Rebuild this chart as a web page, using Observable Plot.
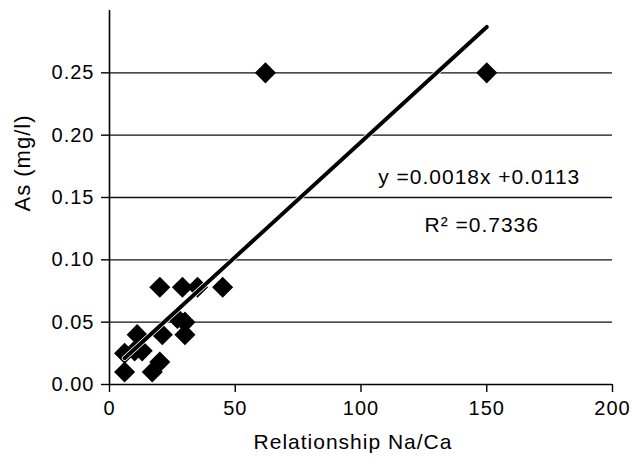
<!DOCTYPE html>
<html>
<head>
<meta charset="utf-8">
<script src="https://cdn.jsdelivr.net/npm/d3@7"></script>
<script src="https://cdn.jsdelivr.net/npm/@observablehq/plot@0.6"></script>
<style>
  html, body { margin: 0; padding: 0; background: #fff; }
</style>
</head>
<body>
<div id="chart"></div>
<script>
// Data
const ratioNaCa = [6, 17, 20, 6, 10, 13, 11, 21, 30, 30, 27, 20, 29, 35, 45, 62, 150];
const arsenic   = [0.010, 0.010, 0.018, 0.025, 0.027, 0.027, 0.040, 0.040, 0.040, 0.050, 0.053, 0.078, 0.078, 0.078, 0.078, 0.25, 0.25];
const xTicks = [0, 50, 100, 150, 200];
const yTicks = [0, 0.05, 0.10, 0.15, 0.20, 0.25];
const gridValues = [0.05, 0.10, 0.15, 0.20, 0.25];
const equationText = "y =0.0018x +0.0113";
const r2Text = "R\u00B2 =0.7336";
const xLabel = "Relationship Na/Ca";
const yLabel = "As (mg/l)";

const data = ratioNaCa.map((x, i) => ({x, y: arsenic[i]}));

const font = "'Liberation Sans', Arial, sans-serif";

const chart = Plot.plot({
  width: 632,
  height: 462,
  marginLeft: 109,
  marginRight: 20,
  marginTop: 10,
  marginBottom: 78,
  style: {fontFamily: font, fontSize: "20px", background: "#fff", color: "#000", letterSpacing: "1px", overflow: "visible"},
  x: {domain: [0, 200], ticks: xTicks, label: null},
  y: {domain: [0, 0.30], ticks: yTicks, label: null},
  marks: [
    Plot.ruleY(gridValues, {x1: 0, x2: 200, stroke: "#111", strokeWidth: 1.4}),
    Plot.axisX({ticks: xTicks, tickSize: 8, tickPadding: 8, tickFormat: d3.format("d"), fontSize: 20, strokeWidth: 1.4, label: null}),
    Plot.axisY({ticks: yTicks, tickSize: 8, tickPadding: 7, tickFormat: d3.format(".2f"), fontSize: 20, strokeWidth: 1.4, label: null}),
    Plot.ruleX([0], {y1: 0, y2: 0.30, stroke: "#000", strokeWidth: 1.6}),
    Plot.ruleY([0], {x1: 0, x2: 200, stroke: "#000", strokeWidth: 1.6}),
    Plot.dot(data, {x: "x", y: "y", symbol: "diamond2", r: 9.5, fill: "#000", stroke: "none"}),
    Plot.linearRegressionY(data, {x: "x", y: "y", ci: 0, stroke: "#fff", strokeWidth: 5.5}),
    Plot.linearRegressionY(data, {x: "x", y: "y", ci: 0, stroke: "#000", strokeWidth: 3.9}),
    Plot.text([equationText], {x: 147, y: 0.1607, text: d => d, lineAnchor: "bottom", textAnchor: "middle", fontSize: 21, fill: "#000", letterSpacing: "1.3px"}),
    Plot.text([r2Text], {x: 148, y: 0.1222, text: d => d, lineAnchor: "bottom", textAnchor: "middle", fontSize: 21, fill: "#000", letterSpacing: "1.4px"}),
    Plot.text([xLabel], {frameAnchor: "bottom", dx: -8, dy: 64, text: d => d, lineAnchor: "bottom", fontSize: 21, fill: "#000"}),
    Plot.text([yLabel], {frameAnchor: "left", dx: -87, dy: 14, rotate: -90, text: d => d, lineAnchor: "middle", fontSize: 22, fill: "#000", letterSpacing: "1.8px"})
  ]
});

document.getElementById("chart").appendChild(chart);
</script>
</body>
</html>
